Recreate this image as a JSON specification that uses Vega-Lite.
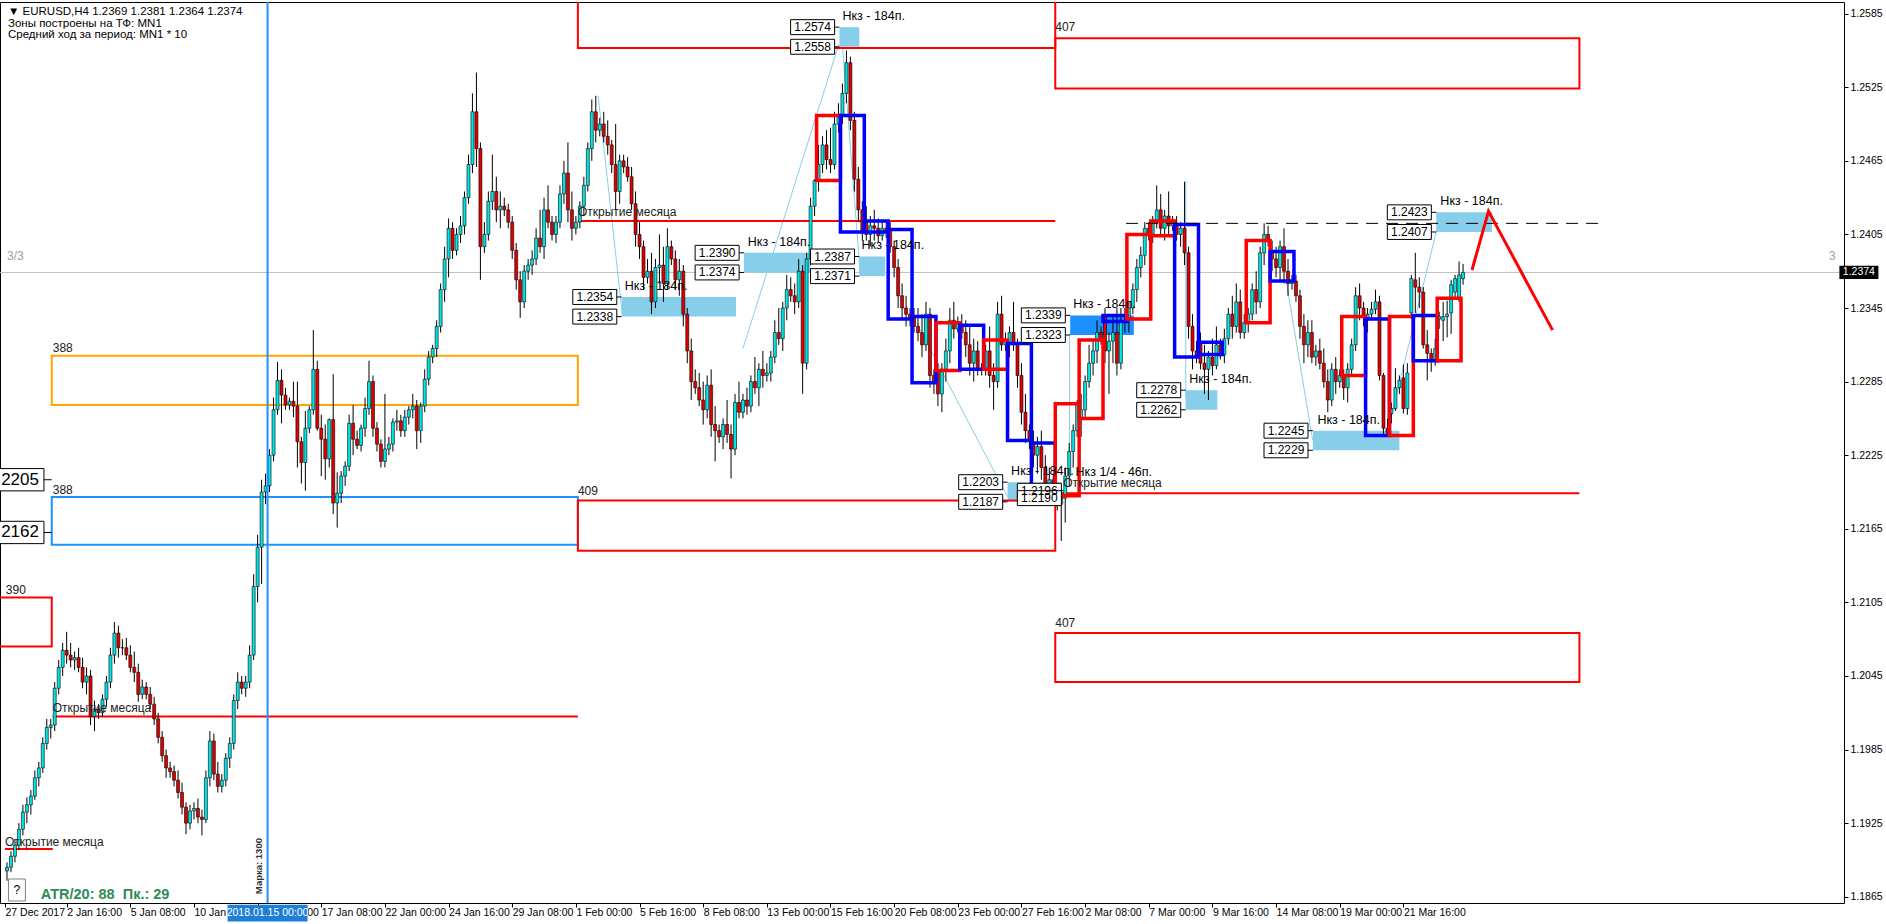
{
"$schema":"https://vega.github.io/schema/vega-lite/v6.json",
"width":1844,"height":901,
"autosize":{"type":"none"},
"padding":{"left":0,"top":2,"right":42,"bottom":21},
"background":"white",
"config":{
 "view":{"stroke":"black","strokeWidth":1},
 "font":"Liberation Sans",
 "axisX":{"title":null,"grid":false,"domain":false,"ticks":true,"tickSize":4,"tickColor":"black","labelAlign":"left","labelBaseline":"top","labelPadding":0,"labelDx":3,"labelFontSize":10.5,"labelColor":"black","labelFlush":false,"labelOverlap":false,"labelBound":false},
 "axisY":{"title":null,"grid":false,"domain":false,"ticks":true,"tickSize":4,"tickColor":"black","labelAlign":"left","labelBaseline":"middle","labelPadding":2,"labelFontSize":10.5,"labelColor":"black","labelFlush":false,"labelOverlap":false,"labelBound":false}
},
"datasets":{
 "weeks":[{"u":11.25},{"u":34.5},{"u":64.5},{"u":94.5},{"u":124.5},{"u":154.5},{"u":184.5},{"u":214.5},{"u":244.5},{"u":274.5},{"u":304.5},{"u":334.5},{"u":364.5},{"u":400.25}],
 "nkz":[
  {"u1":153.5,"u2":182.25,"pt":1.2354,"pb":1.2338,"kind":"h4"},
  {"u1":184.25,"u2":201,"pt":1.2390,"pb":1.2374,"kind":"h4"},
  {"u1":213.25,"u2":219.75,"pt":1.2387,"pb":1.2371,"kind":"h4"},
  {"u1":208.25,"u2":213.25,"pt":1.2574,"pb":1.2558,"kind":"h4"},
  {"u1":266.25,"u2":282.25,"pt":1.2339,"pb":1.2323,"kind":"active"},
  {"u1":250.5,"u2":264,"pt":1.2203,"pb":1.2187,"kind":"h4"},
  {"u1":295.25,"u2":303.25,"pt":1.2278,"pb":1.2262,"kind":"h4"},
  {"u1":327.25,"u2":349,"pt":1.2245,"pb":1.2229,"kind":"h4"},
  {"u1":358.25,"u2":372.25,"pt":1.2423,"pb":1.2407,"kind":"h4"}
 ],
 "zz":[
  {"s":1,"u":147.6,"p":1.2518},{"s":1,"u":153.7,"p":1.2339},
  {"s":2,"u":184.0,"p":1.2312},{"s":2,"u":208.1,"p":1.2560},
  {"s":3,"u":209.0,"p":1.2560},{"s":3,"u":213.5,"p":1.2372},
  {"s":4,"u":227.6,"p":1.2333},{"s":4,"u":250.5,"p":1.2191},
  {"s":5,"u":266.1,"p":1.2204},{"s":5,"u":266.1,"p":1.2324},
  {"s":6,"u":295.3,"p":1.2449},{"s":6,"u":295.3,"p":1.2272},
  {"s":7,"u":320.5,"p":1.2368},{"s":7,"u":327.2,"p":1.2237},
  {"s":8,"u":346.7,"p":1.2253},{"s":8,"u":358.4,"p":1.2409}
 ],
 "mnzones":[
  {"u1":10.25,"u2":142.5,"pt":1.2306,"pb":1.2266,"kind":"sell388"},
  {"u1":10.25,"u2":142.5,"pt":1.2191,"pb":1.2152,"kind":"buy388"},
  {"u1":-5,"u2":10.25,"pt":1.2109,"pb":1.2069,"kind":"z"},
  {"u1":142.5,"u2":262.5,"pt":1.2188,"pb":1.2147,"kind":"z"},
  {"u1":142.5,"u2":262.5,"pt":1.2650,"pb":1.2557,"kind":"z"},
  {"u1":262.5,"u2":394.25,"pt":1.2565,"pb":1.2524,"kind":"z"},
  {"u1":262.5,"u2":394.25,"pt":1.2080,"pb":1.2040,"kind":"z"}
 ],
 "mopen":[
  {"u1":-1.5,"u2":10.5,"p":1.1904},
  {"u1":10.5,"u2":142.5,"p":1.2012},
  {"u1":142.5,"u2":262.5,"p":1.2416},
  {"u1":262.5,"u2":394.25,"p":1.2194}
 ],
 "days":[
  {"u1":202.5,"u2":208.5,"dopen":1.2449,"dclose":1.2502},
  {"u1":208.5,"u2":214.5,"dopen":1.2502,"dclose":1.2407},
  {"u1":214.5,"u2":220.5,"dopen":1.2416,"dclose":1.2407},
  {"u1":220.5,"u2":226.5,"dopen":1.2409,"dclose":1.2336},
  {"u1":226.5,"u2":232.5,"dopen":1.2338,"dclose":1.2284},
  {"u1":232.5,"u2":238.5,"dopen":1.2294,"dclose":1.2333},
  {"u1":238.5,"u2":244.5,"dopen":1.2331,"dclose":1.2295},
  {"u1":244.5,"u2":250.5,"dopen":1.2295,"dclose":1.2319},
  {"u1":250.5,"u2":256.5,"dopen":1.2316,"dclose":1.2237},
  {"u1":256.5,"u2":262.5,"dopen":1.2235,"dclose":1.2200},
  {"u1":262.5,"u2":268.5,"dopen":1.2192,"dclose":1.2267},
  {"u1":268.5,"u2":274.5,"dopen":1.2255,"dclose":1.2319},
  {"u1":274.5,"u2":280.5,"dopen":1.2339,"dclose":1.2334},
  {"u1":280.5,"u2":286.5,"dopen":1.2336,"dclose":1.2405},
  {"u1":286.5,"u2":292.5,"dopen":1.2404,"dclose":1.2416},
  {"u1":292.5,"u2":298.5,"dopen":1.2413,"dclose":1.2305},
  {"u1":298.5,"u2":304.5,"dopen":1.2317,"dclose":1.2307},
  {"u1":310.5,"u2":316.5,"dopen":1.2333,"dclose":1.2400},
  {"u1":316.5,"u2":322.5,"dopen":1.2391,"dclose":1.2367},
  {"u1":334.5,"u2":340.5,"dopen":1.2290,"dclose":1.2338},
  {"u1":340.5,"u2":346.5,"dopen":1.2336,"dclose":1.2241},
  {"u1":346.5,"u2":352.5,"dopen":1.2241,"dclose":1.2338},
  {"u1":352.5,"u2":358.5,"dopen":1.2339,"dclose":1.2302},
  {"u1":358.5,"u2":364.5,"dopen":1.2302,"dclose":1.2353}
 ],
 "forecast":[{"k":1,"u":367.25,"p":1.2376},{"k":2,"u":371.4,"p":1.2424},{"k":3,"u":387.5,"p":1.2327}],
 "plabels":[
  {"t":"1.2354","u":146.75,"uz":153.5,"p":1.2354},{"t":"1.2338","u":146.75,"uz":153.5,"p":1.2338},
  {"t":"1.2390","u":177.5,"uz":184.25,"p":1.2390},{"t":"1.2374","u":177.5,"uz":184.25,"p":1.2374},
  {"t":"1.2387","u":206.5,"uz":213.25,"p":1.2387},{"t":"1.2371","u":206.5,"uz":213.25,"p":1.2371},
  {"t":"1.2574","u":201.5,"uz":208.25,"p":1.2574},{"t":"1.2558","u":201.5,"uz":208.25,"p":1.2558},
  {"t":"1.2339","u":259.5,"uz":266.25,"p":1.2339},{"t":"1.2323","u":259.5,"uz":266.25,"p":1.2323},
  {"t":"1.2203","u":243.75,"uz":250.5,"p":1.2203},{"t":"1.2187","u":243.75,"uz":250.5,"p":1.2187},
  {"t":"1.2196","u":258.5,"uz":264.5,"p":1.2196},{"t":"1.2190","u":258.5,"uz":264.5,"p":1.2190},
  {"t":"1.2278","u":288.5,"uz":295.25,"p":1.2278},{"t":"1.2262","u":288.5,"uz":295.25,"p":1.2262},
  {"t":"1.2245","u":320.5,"uz":327.25,"p":1.2245},{"t":"1.2229","u":320.5,"uz":327.25,"p":1.2229},
  {"t":"1.2423","u":351.5,"uz":358.25,"p":1.2423},{"t":"1.2407","u":351.5,"uz":358.25,"p":1.2407}
 ],
 "biglabels":[{"t":"1.2205","u":0.5,"uz":10.25,"p":1.2205},{"t":"1.2162","u":0.5,"uz":10.25,"p":1.2162}],
 "texts":[
  {"g":"hdr","u":-0.75,"p":1.25864,"t":"▼ EURUSD,H4  1.2369 1.2381 1.2364 1.2374"},
  {"g":"hdr","u":-0.75,"p":1.25764,"t":"Зоны построены на ТФ: MN1"},
  {"g":"hdr","u":-0.75,"p":1.25672,"t":"Средний ход за период: MN1 * 10"},
  {"g":"znum","u":10.5,"p":1.23125,"t":"388"},
  {"g":"znum","u":10.5,"p":1.21968,"t":"388"},
  {"g":"znum","u":-1.3,"p":1.21154,"t":"390"},
  {"g":"znum","u":142.5,"p":1.21959,"t":"409"},
  {"g":"znum","u":262.5,"p":1.2088,"t":"407"},
  {"g":"znum","u":262.5,"p":1.25743,"t":"407"},
  {"g":"mopen","u":-1.5,"p":1.1910,"t":"Открытие месяца"},
  {"g":"mopen","u":10.5,"p":1.2019,"t":"Открытие месяца"},
  {"g":"mopen","u":142.5,"p":1.2423,"t":"Открытие месяца"},
  {"g":"mopen","u":264.5,"p":1.2202,"t":"Открытие месяца"},
  {"g":"nkz","u":154.3,"p":1.2363,"t":"Нкз - 184п."},
  {"g":"nkz","u":185.2,"p":1.2399,"t":"Нкз - 184п."},
  {"g":"nkz","u":213.8,"p":1.2396,"t":"Нкз - 184п."},
  {"g":"nkz","u":209.0,"p":1.2583,"t":"Нкз - 184п."},
  {"g":"nkz","u":267.0,"p":1.2348,"t":"Нкз - 184п."},
  {"g":"nkz","u":251.4,"p":1.2212,"t":"Нкз - 184п."},
  {"g":"nkz","u":296.2,"p":1.2287,"t":"Нкз - 184п."},
  {"g":"nkz","u":328.4,"p":1.2254,"t":"Нкз - 184п."},
  {"g":"nkz","u":359.3,"p":1.2432,"t":"Нкз - 184п."},
  {"g":"nkz","u":267.6,"p":1.2211,"t":"Нкз 1/4 - 46п."},
  {"g":"gray","u":-1,"p":1.23874,"t":"3/3"},
  {"g":"gray","u":457,"p":1.23874,"t":"3"}
 ],
 "candles":[
{"b":-1,"o":1.1886,"h":1.1893,"l":1.1878,"c":1.1889},
{"b":0,"o":1.1889,"h":1.1902,"l":1.1885,"c":1.1898},
{"b":1,"o":1.1898,"h":1.1912,"l":1.1893,"c":1.1907},
{"b":2,"o":1.1907,"h":1.1925,"l":1.1903,"c":1.1920},
{"b":3,"o":1.1920,"h":1.1940,"l":1.1915,"c":1.1934},
{"b":4,"o":1.1934,"h":1.1946,"l":1.1925,"c":1.1940},
{"b":5,"o":1.1940,"h":1.1952,"l":1.1932,"c":1.1947},
{"b":6,"o":1.1947,"h":1.1968,"l":1.1944,"c":1.1962},
{"b":7,"o":1.1962,"h":1.1975,"l":1.1955,"c":1.1970},
{"b":8,"o":1.1970,"h":1.1995,"l":1.1966,"c":1.1990},
{"b":9,"o":1.1990,"h":1.2010,"l":1.1985,"c":1.2003},
{"b":10,"o":1.2003,"h":1.2010,"l":1.1994,"c":1.2005},
{"b":11,"o":1.2005,"h":1.2040,"l":1.2000,"c":1.2035},
{"b":12,"o":1.2035,"h":1.2058,"l":1.2030,"c":1.2052},
{"b":13,"o":1.2052,"h":1.2072,"l":1.2045,"c":1.2066},
{"b":14,"o":1.2066,"h":1.2081,"l":1.2055,"c":1.2062},
{"b":15,"o":1.2062,"h":1.2072,"l":1.2052,"c":1.2058},
{"b":16,"o":1.2058,"h":1.2065,"l":1.2050,"c":1.2060},
{"b":17,"o":1.2060,"h":1.2068,"l":1.2048,"c":1.2052},
{"b":18,"o":1.2052,"h":1.2060,"l":1.2035,"c":1.2040},
{"b":19,"o":1.2040,"h":1.2052,"l":1.2030,"c":1.2045},
{"b":20,"o":1.2045,"h":1.2050,"l":1.2005,"c":1.2012},
{"b":21,"o":1.2012,"h":1.2025,"l":1.2000,"c":1.2018},
{"b":22,"o":1.2018,"h":1.2022,"l":1.2010,"c":1.2015},
{"b":23,"o":1.2015,"h":1.2030,"l":1.2012,"c":1.2026},
{"b":24,"o":1.2026,"h":1.2045,"l":1.2020,"c":1.2040},
{"b":25,"o":1.2040,"h":1.2068,"l":1.2035,"c":1.2062},
{"b":26,"o":1.2062,"h":1.2089,"l":1.2055,"c":1.2080},
{"b":27,"o":1.2080,"h":1.2086,"l":1.2060,"c":1.2068},
{"b":28,"o":1.2068,"h":1.2075,"l":1.2062,"c":1.2068},
{"b":29,"o":1.2068,"h":1.2076,"l":1.2058,"c":1.2062},
{"b":30,"o":1.2062,"h":1.2070,"l":1.2048,"c":1.2052},
{"b":31,"o":1.2052,"h":1.2065,"l":1.2040,"c":1.2048},
{"b":32,"o":1.2048,"h":1.2055,"l":1.2024,"c":1.2030},
{"b":33,"o":1.2030,"h":1.2042,"l":1.2026,"c":1.2036},
{"b":34,"o":1.2036,"h":1.2040,"l":1.2026,"c":1.2030},
{"b":35,"o":1.2030,"h":1.2036,"l":1.2018,"c":1.2022},
{"b":36,"o":1.2022,"h":1.2028,"l":1.2005,"c":1.2010},
{"b":37,"o":1.2010,"h":1.2015,"l":1.1990,"c":1.1995},
{"b":38,"o":1.1995,"h":1.2000,"l":1.1975,"c":1.1980},
{"b":39,"o":1.1980,"h":1.1985,"l":1.1962,"c":1.1970},
{"b":40,"o":1.1970,"h":1.1975,"l":1.1962,"c":1.1967},
{"b":41,"o":1.1967,"h":1.1972,"l":1.1955,"c":1.1960},
{"b":42,"o":1.1960,"h":1.1968,"l":1.1945,"c":1.1950},
{"b":43,"o":1.1950,"h":1.1958,"l":1.1932,"c":1.1938},
{"b":44,"o":1.1938,"h":1.1942,"l":1.1916,"c":1.1925},
{"b":45,"o":1.1925,"h":1.1940,"l":1.1920,"c":1.1935},
{"b":46,"o":1.1935,"h":1.1942,"l":1.1928,"c":1.1937},
{"b":47,"o":1.1937,"h":1.1945,"l":1.1925,"c":1.1930},
{"b":48,"o":1.1930,"h":1.1936,"l":1.1915,"c":1.1928},
{"b":49,"o":1.1928,"h":1.1968,"l":1.1925,"c":1.1962},
{"b":50,"o":1.1962,"h":1.2000,"l":1.1955,"c":1.1992},
{"b":51,"o":1.1992,"h":1.1998,"l":1.1960,"c":1.1965},
{"b":52,"o":1.1965,"h":1.1975,"l":1.1950,"c":1.1955},
{"b":53,"o":1.1955,"h":1.1965,"l":1.1950,"c":1.1960},
{"b":54,"o":1.1960,"h":1.1982,"l":1.1955,"c":1.1978},
{"b":55,"o":1.1978,"h":1.1995,"l":1.1970,"c":1.1990},
{"b":56,"o":1.1990,"h":1.2030,"l":1.1985,"c":1.2025},
{"b":57,"o":1.2025,"h":1.2048,"l":1.2018,"c":1.2040},
{"b":58,"o":1.2040,"h":1.2045,"l":1.2030,"c":1.2035},
{"b":59,"o":1.2035,"h":1.2045,"l":1.2028,"c":1.2040},
{"b":60,"o":1.2040,"h":1.2070,"l":1.2035,"c":1.2062},
{"b":61,"o":1.2062,"h":1.2128,"l":1.2058,"c":1.2118},
{"b":62,"o":1.2118,"h":1.2160,"l":1.2105,"c":1.2150},
{"b":63,"o":1.2150,"h":1.2205,"l":1.2120,"c":1.2195},
{"b":64,"o":1.2195,"h":1.2210,"l":1.2185,"c":1.2200},
{"b":65,"o":1.2200,"h":1.2230,"l":1.2195,"c":1.2225},
{"b":66,"o":1.2225,"h":1.2272,"l":1.2220,"c":1.2262},
{"b":67,"o":1.2262,"h":1.2301,"l":1.2258,"c":1.2286},
{"b":68,"o":1.2286,"h":1.2295,"l":1.2251,"c":1.2274},
{"b":69,"o":1.2274,"h":1.2280,"l":1.2262,"c":1.2266},
{"b":70,"o":1.2266,"h":1.2272,"l":1.2262,"c":1.2269},
{"b":71,"o":1.2269,"h":1.2285,"l":1.2256,"c":1.2265},
{"b":72,"o":1.2265,"h":1.2285,"l":1.2215,"c":1.2236},
{"b":73,"o":1.2236,"h":1.2240,"l":1.2202,"c":1.2219},
{"b":74,"o":1.2219,"h":1.2261,"l":1.2196,"c":1.2247},
{"b":75,"o":1.2247,"h":1.2265,"l":1.2243,"c":1.2262},
{"b":76,"o":1.2262,"h":1.2327,"l":1.2258,"c":1.2295},
{"b":77,"o":1.2295,"h":1.2302,"l":1.2245,"c":1.2247},
{"b":78,"o":1.2247,"h":1.2258,"l":1.2208,"c":1.2238},
{"b":79,"o":1.2238,"h":1.2250,"l":1.2205,"c":1.2222},
{"b":80,"o":1.2222,"h":1.2255,"l":1.2215,"c":1.2254},
{"b":81,"o":1.2254,"h":1.2291,"l":1.2177,"c":1.2186},
{"b":82,"o":1.2186,"h":1.2211,"l":1.2166,"c":1.2194},
{"b":83,"o":1.2194,"h":1.2212,"l":1.2186,"c":1.2208},
{"b":84,"o":1.2208,"h":1.2220,"l":1.2200,"c":1.2216},
{"b":85,"o":1.2216,"h":1.2258,"l":1.2212,"c":1.2251},
{"b":86,"o":1.2251,"h":1.2266,"l":1.2225,"c":1.2238},
{"b":87,"o":1.2238,"h":1.2245,"l":1.2230,"c":1.2233},
{"b":88,"o":1.2233,"h":1.2250,"l":1.2228,"c":1.2247},
{"b":89,"o":1.2247,"h":1.2272,"l":1.2240,"c":1.2263},
{"b":90,"o":1.2263,"h":1.2302,"l":1.2258,"c":1.2285},
{"b":91,"o":1.2285,"h":1.2290,"l":1.2240,"c":1.2247},
{"b":92,"o":1.2247,"h":1.2252,"l":1.2228,"c":1.2234},
{"b":93,"o":1.2234,"h":1.2238,"l":1.2215,"c":1.2220},
{"b":94,"o":1.2220,"h":1.2275,"l":1.2215,"c":1.2230},
{"b":95,"o":1.2230,"h":1.2240,"l":1.2225,"c":1.2234},
{"b":96,"o":1.2234,"h":1.2255,"l":1.2228,"c":1.2252},
{"b":97,"o":1.2252,"h":1.2262,"l":1.2245,"c":1.2253},
{"b":98,"o":1.2253,"h":1.2258,"l":1.2240,"c":1.2245},
{"b":99,"o":1.2245,"h":1.2262,"l":1.2240,"c":1.2256},
{"b":100,"o":1.2256,"h":1.2265,"l":1.2250,"c":1.2262},
{"b":101,"o":1.2262,"h":1.2275,"l":1.2255,"c":1.2265},
{"b":102,"o":1.2265,"h":1.2270,"l":1.2230,"c":1.2245},
{"b":103,"o":1.2245,"h":1.2268,"l":1.2235,"c":1.2265},
{"b":104,"o":1.2265,"h":1.2295,"l":1.2260,"c":1.2287},
{"b":105,"o":1.2287,"h":1.2310,"l":1.2282,"c":1.2305},
{"b":106,"o":1.2305,"h":1.2315,"l":1.2300,"c":1.2312},
{"b":107,"o":1.2312,"h":1.2335,"l":1.2305,"c":1.2330},
{"b":108,"o":1.2330,"h":1.2365,"l":1.2325,"c":1.2360},
{"b":109,"o":1.2360,"h":1.2395,"l":1.2350,"c":1.2385},
{"b":110,"o":1.2385,"h":1.2418,"l":1.2370,"c":1.2410},
{"b":111,"o":1.2410,"h":1.2415,"l":1.2385,"c":1.2392},
{"b":112,"o":1.2392,"h":1.2410,"l":1.2388,"c":1.2405},
{"b":113,"o":1.2405,"h":1.2420,"l":1.2398,"c":1.2412},
{"b":114,"o":1.2412,"h":1.2440,"l":1.2405,"c":1.2435},
{"b":115,"o":1.2435,"h":1.2470,"l":1.2430,"c":1.2462},
{"b":116,"o":1.2462,"h":1.2520,"l":1.2455,"c":1.2505},
{"b":117,"o":1.2505,"h":1.2537,"l":1.2460,"c":1.2475},
{"b":118,"o":1.2475,"h":1.2480,"l":1.2368,"c":1.2395},
{"b":119,"o":1.2395,"h":1.2415,"l":1.2390,"c":1.2405},
{"b":120,"o":1.2405,"h":1.2440,"l":1.2400,"c":1.2432},
{"b":121,"o":1.2432,"h":1.2470,"l":1.2425,"c":1.2440},
{"b":122,"o":1.2440,"h":1.2452,"l":1.2415,"c":1.2425},
{"b":123,"o":1.2425,"h":1.2440,"l":1.2410,"c":1.2428},
{"b":124,"o":1.2428,"h":1.2435,"l":1.2420,"c":1.2425},
{"b":125,"o":1.2425,"h":1.2430,"l":1.2410,"c":1.2415},
{"b":126,"o":1.2415,"h":1.2420,"l":1.2385,"c":1.2392},
{"b":127,"o":1.2392,"h":1.2398,"l":1.2360,"c":1.2368},
{"b":128,"o":1.2368,"h":1.2375,"l":1.2337,"c":1.2350},
{"b":129,"o":1.2350,"h":1.2380,"l":1.2345,"c":1.2375},
{"b":130,"o":1.2375,"h":1.2385,"l":1.2368,"c":1.2380},
{"b":131,"o":1.2380,"h":1.2392,"l":1.2372,"c":1.2385},
{"b":132,"o":1.2385,"h":1.2410,"l":1.2380,"c":1.2402},
{"b":133,"o":1.2402,"h":1.2425,"l":1.2390,"c":1.2395},
{"b":134,"o":1.2395,"h":1.2435,"l":1.2385,"c":1.2425},
{"b":135,"o":1.2425,"h":1.2445,"l":1.2410,"c":1.2415},
{"b":136,"o":1.2415,"h":1.2420,"l":1.2400,"c":1.2405},
{"b":137,"o":1.2405,"h":1.2420,"l":1.2398,"c":1.2415},
{"b":138,"o":1.2415,"h":1.2445,"l":1.2410,"c":1.2438},
{"b":139,"o":1.2438,"h":1.2465,"l":1.2430,"c":1.2455},
{"b":140,"o":1.2455,"h":1.2480,"l":1.2415,"c":1.2425},
{"b":141,"o":1.2425,"h":1.2440,"l":1.2400,"c":1.2410},
{"b":142,"o":1.2410,"h":1.2420,"l":1.2405,"c":1.2415},
{"b":143,"o":1.2415,"h":1.2432,"l":1.2410,"c":1.2428},
{"b":144,"o":1.2428,"h":1.2452,"l":1.2420,"c":1.2445},
{"b":145,"o":1.2445,"h":1.2480,"l":1.2440,"c":1.2475},
{"b":146,"o":1.2475,"h":1.2515,"l":1.2465,"c":1.2505},
{"b":147,"o":1.2505,"h":1.2518,"l":1.2480,"c":1.2490},
{"b":148,"o":1.2490,"h":1.2500,"l":1.2485,"c":1.2495},
{"b":149,"o":1.2495,"h":1.2505,"l":1.2480,"c":1.2485},
{"b":150,"o":1.2485,"h":1.2498,"l":1.2470,"c":1.2478},
{"b":151,"o":1.2478,"h":1.2482,"l":1.2455,"c":1.2462},
{"b":152,"o":1.2462,"h":1.2495,"l":1.2425,"c":1.2440},
{"b":153,"o":1.2440,"h":1.2470,"l":1.2430,"c":1.2465},
{"b":154,"o":1.2465,"h":1.2470,"l":1.2455,"c":1.2460},
{"b":155,"o":1.2460,"h":1.2468,"l":1.2448,"c":1.2452},
{"b":156,"o":1.2452,"h":1.2460,"l":1.2425,"c":1.2430},
{"b":157,"o":1.2430,"h":1.2440,"l":1.2395,"c":1.2405},
{"b":158,"o":1.2405,"h":1.2415,"l":1.2385,"c":1.2395},
{"b":159,"o":1.2395,"h":1.2400,"l":1.2360,"c":1.2370},
{"b":160,"o":1.2370,"h":1.2385,"l":1.2365,"c":1.2375},
{"b":161,"o":1.2375,"h":1.2390,"l":1.2340,"c":1.2350},
{"b":162,"o":1.2350,"h":1.2385,"l":1.2345,"c":1.2378},
{"b":163,"o":1.2378,"h":1.2405,"l":1.2365,"c":1.2380},
{"b":164,"o":1.2380,"h":1.2395,"l":1.2350,"c":1.2365},
{"b":165,"o":1.2365,"h":1.2410,"l":1.2360,"c":1.2395},
{"b":166,"o":1.2395,"h":1.2400,"l":1.2380,"c":1.2385},
{"b":167,"o":1.2385,"h":1.2392,"l":1.2360,"c":1.2368},
{"b":168,"o":1.2368,"h":1.2385,"l":1.2355,"c":1.2375},
{"b":169,"o":1.2375,"h":1.2380,"l":1.2330,"c":1.2340},
{"b":170,"o":1.2340,"h":1.2345,"l":1.2300,"c":1.2310},
{"b":171,"o":1.2310,"h":1.2320,"l":1.2270,"c":1.2285},
{"b":172,"o":1.2285,"h":1.2295,"l":1.2275,"c":1.2280},
{"b":173,"o":1.2280,"h":1.2292,"l":1.2265,"c":1.2270},
{"b":174,"o":1.2270,"h":1.2285,"l":1.2250,"c":1.2262},
{"b":175,"o":1.2262,"h":1.2290,"l":1.2255,"c":1.2282},
{"b":176,"o":1.2282,"h":1.2295,"l":1.2240,"c":1.2250},
{"b":177,"o":1.2250,"h":1.2265,"l":1.2220,"c":1.2245},
{"b":178,"o":1.2245,"h":1.2250,"l":1.2235,"c":1.2240},
{"b":179,"o":1.2240,"h":1.2255,"l":1.2230,"c":1.2250},
{"b":180,"o":1.2250,"h":1.2270,"l":1.2235,"c":1.2242},
{"b":181,"o":1.2242,"h":1.2250,"l":1.2206,"c":1.2230},
{"b":182,"o":1.2230,"h":1.2275,"l":1.2225,"c":1.2268},
{"b":183,"o":1.2268,"h":1.2285,"l":1.2255,"c":1.2260},
{"b":184,"o":1.2260,"h":1.2275,"l":1.2255,"c":1.2270},
{"b":185,"o":1.2270,"h":1.2280,"l":1.2258,"c":1.2265},
{"b":186,"o":1.2265,"h":1.2290,"l":1.2260,"c":1.2285},
{"b":187,"o":1.2285,"h":1.2305,"l":1.2275,"c":1.2280},
{"b":188,"o":1.2280,"h":1.2300,"l":1.2265,"c":1.2295},
{"b":189,"o":1.2295,"h":1.2310,"l":1.2280,"c":1.2290},
{"b":190,"o":1.2290,"h":1.2300,"l":1.2285,"c":1.2292},
{"b":191,"o":1.2292,"h":1.2310,"l":1.2285,"c":1.2305},
{"b":192,"o":1.2305,"h":1.2335,"l":1.2300,"c":1.2325},
{"b":193,"o":1.2325,"h":1.2345,"l":1.2315,"c":1.2320},
{"b":194,"o":1.2320,"h":1.2350,"l":1.2310,"c":1.2345},
{"b":195,"o":1.2345,"h":1.2372,"l":1.2335,"c":1.2360},
{"b":196,"o":1.2360,"h":1.2370,"l":1.2350,"c":1.2355},
{"b":197,"o":1.2355,"h":1.2365,"l":1.2340,"c":1.2350},
{"b":198,"o":1.2350,"h":1.2385,"l":1.2345,"c":1.2375},
{"b":199,"o":1.2375,"h":1.2380,"l":1.2275,"c":1.2300},
{"b":200,"o":1.2300,"h":1.2390,"l":1.2295,"c":1.2385},
{"b":201,"o":1.2385,"h":1.2435,"l":1.2380,"c":1.2428},
{"b":202,"o":1.2428,"h":1.2450,"l":1.2420,"c":1.2449},
{"b":203,"o":1.2449,"h":1.2478,"l":1.2440,"c":1.2462},
{"b":204,"o":1.2462,"h":1.2485,"l":1.2455,"c":1.2478},
{"b":205,"o":1.2478,"h":1.2490,"l":1.2458,"c":1.2466},
{"b":206,"o":1.2466,"h":1.2492,"l":1.2455,"c":1.2462},
{"b":207,"o":1.2462,"h":1.2505,"l":1.2458,"c":1.2495},
{"b":208,"o":1.2495,"h":1.2512,"l":1.2488,"c":1.2502},
{"b":209,"o":1.2502,"h":1.2528,"l":1.2495,"c":1.2520},
{"b":210,"o":1.2520,"h":1.2555,"l":1.2512,"c":1.2545},
{"b":211,"o":1.2545,"h":1.2550,"l":1.2490,"c":1.2498},
{"b":212,"o":1.2498,"h":1.2505,"l":1.2440,"c":1.2450},
{"b":213,"o":1.2450,"h":1.2460,"l":1.2415,"c":1.2425},
{"b":214,"o":1.2425,"h":1.2432,"l":1.2400,"c":1.2407},
{"b":215,"o":1.2416,"h":1.2428,"l":1.2400,"c":1.2405},
{"b":216,"o":1.2405,"h":1.2420,"l":1.2395,"c":1.2412},
{"b":217,"o":1.2412,"h":1.2425,"l":1.2400,"c":1.2410},
{"b":218,"o":1.2410,"h":1.2418,"l":1.2398,"c":1.2404},
{"b":219,"o":1.2404,"h":1.2415,"l":1.2400,"c":1.2410},
{"b":220,"o":1.2410,"h":1.2415,"l":1.2402,"c":1.2407},
{"b":221,"o":1.2409,"h":1.2415,"l":1.2390,"c":1.2395},
{"b":222,"o":1.2395,"h":1.2400,"l":1.2370,"c":1.2378},
{"b":223,"o":1.2378,"h":1.2385,"l":1.2345,"c":1.2355},
{"b":224,"o":1.2355,"h":1.2365,"l":1.2335,"c":1.2345},
{"b":225,"o":1.2345,"h":1.2355,"l":1.2330,"c":1.2340},
{"b":226,"o":1.2340,"h":1.2345,"l":1.2330,"c":1.2336},
{"b":227,"o":1.2338,"h":1.2345,"l":1.2325,"c":1.2330},
{"b":228,"o":1.2330,"h":1.2345,"l":1.2318,"c":1.2325},
{"b":229,"o":1.2325,"h":1.2340,"l":1.2305,"c":1.2315},
{"b":230,"o":1.2315,"h":1.2350,"l":1.2310,"c":1.2340},
{"b":231,"o":1.2340,"h":1.2345,"l":1.2280,"c":1.2290},
{"b":232,"o":1.2290,"h":1.2295,"l":1.2275,"c":1.2284},
{"b":233,"o":1.2294,"h":1.2300,"l":1.2265,"c":1.2275},
{"b":234,"o":1.2275,"h":1.2300,"l":1.2260,"c":1.2295},
{"b":235,"o":1.2295,"h":1.2320,"l":1.2285,"c":1.2310},
{"b":236,"o":1.2310,"h":1.2345,"l":1.2300,"c":1.2335},
{"b":237,"o":1.2335,"h":1.2350,"l":1.2320,"c":1.2328},
{"b":238,"o":1.2328,"h":1.2338,"l":1.2325,"c":1.2333},
{"b":239,"o":1.2331,"h":1.2340,"l":1.2320,"c":1.2325},
{"b":240,"o":1.2325,"h":1.2335,"l":1.2305,"c":1.2315},
{"b":241,"o":1.2315,"h":1.2330,"l":1.2290,"c":1.2300},
{"b":242,"o":1.2300,"h":1.2320,"l":1.2285,"c":1.2310},
{"b":243,"o":1.2310,"h":1.2318,"l":1.2290,"c":1.2295},
{"b":244,"o":1.2295,"h":1.2300,"l":1.2290,"c":1.2295},
{"b":245,"o":1.2295,"h":1.2315,"l":1.2290,"c":1.2310},
{"b":246,"o":1.2310,"h":1.2330,"l":1.2280,"c":1.2290},
{"b":247,"o":1.2290,"h":1.2300,"l":1.2262,"c":1.2285},
{"b":248,"o":1.2285,"h":1.2350,"l":1.2280,"c":1.2340},
{"b":249,"o":1.2340,"h":1.2355,"l":1.2310,"c":1.2315},
{"b":250,"o":1.2315,"h":1.2325,"l":1.2310,"c":1.2319},
{"b":251,"o":1.2316,"h":1.2330,"l":1.2305,"c":1.2325},
{"b":252,"o":1.2325,"h":1.2350,"l":1.2310,"c":1.2315},
{"b":253,"o":1.2315,"h":1.2320,"l":1.2280,"c":1.2290},
{"b":254,"o":1.2290,"h":1.2300,"l":1.2250,"c":1.2260},
{"b":255,"o":1.2260,"h":1.2275,"l":1.2235,"c":1.2245},
{"b":256,"o":1.2245,"h":1.2250,"l":1.2230,"c":1.2237},
{"b":257,"o":1.2235,"h":1.2245,"l":1.2215,"c":1.2225},
{"b":258,"o":1.2225,"h":1.2240,"l":1.2210,"c":1.2232},
{"b":259,"o":1.2232,"h":1.2245,"l":1.2205,"c":1.2215},
{"b":260,"o":1.2215,"h":1.2225,"l":1.2190,"c":1.2198},
{"b":261,"o":1.2198,"h":1.2215,"l":1.2188,"c":1.2205},
{"b":262,"o":1.2205,"h":1.2210,"l":1.2195,"c":1.2200},
{"b":263,"o":1.2192,"h":1.2200,"l":1.2180,"c":1.2185},
{"b":264,"o":1.2185,"h":1.2198,"l":1.2155,"c":1.2190},
{"b":265,"o":1.2190,"h":1.2215,"l":1.2170,"c":1.2208},
{"b":266,"o":1.2208,"h":1.2235,"l":1.2200,"c":1.2228},
{"b":267,"o":1.2228,"h":1.2250,"l":1.2215,"c":1.2245},
{"b":268,"o":1.2245,"h":1.2270,"l":1.2240,"c":1.2267},
{"b":269,"o":1.2255,"h":1.2275,"l":1.2240,"c":1.2262},
{"b":270,"o":1.2262,"h":1.2290,"l":1.2255,"c":1.2285},
{"b":271,"o":1.2285,"h":1.2315,"l":1.2280,"c":1.2300},
{"b":272,"o":1.2300,"h":1.2320,"l":1.2290,"c":1.2310},
{"b":273,"o":1.2310,"h":1.2335,"l":1.2300,"c":1.2325},
{"b":274,"o":1.2325,"h":1.2330,"l":1.2315,"c":1.2319},
{"b":275,"o":1.2339,"h":1.2345,"l":1.2300,"c":1.2310},
{"b":276,"o":1.2310,"h":1.2325,"l":1.2275,"c":1.2318},
{"b":277,"o":1.2318,"h":1.2340,"l":1.2300,"c":1.2325},
{"b":278,"o":1.2325,"h":1.2345,"l":1.2290,"c":1.2300},
{"b":279,"o":1.2300,"h":1.2345,"l":1.2295,"c":1.2335},
{"b":280,"o":1.2335,"h":1.2345,"l":1.2325,"c":1.2334},
{"b":281,"o":1.2336,"h":1.2350,"l":1.2325,"c":1.2345},
{"b":282,"o":1.2345,"h":1.2365,"l":1.2340,"c":1.2360},
{"b":283,"o":1.2360,"h":1.2385,"l":1.2350,"c":1.2378},
{"b":284,"o":1.2378,"h":1.2395,"l":1.2370,"c":1.2388},
{"b":285,"o":1.2388,"h":1.2415,"l":1.2380,"c":1.2410},
{"b":286,"o":1.2410,"h":1.2415,"l":1.2400,"c":1.2405},
{"b":287,"o":1.2404,"h":1.2420,"l":1.2398,"c":1.2415},
{"b":288,"o":1.2415,"h":1.2445,"l":1.2410,"c":1.2425},
{"b":289,"o":1.2425,"h":1.2438,"l":1.2405,"c":1.2410},
{"b":290,"o":1.2410,"h":1.2425,"l":1.2400,"c":1.2420},
{"b":291,"o":1.2420,"h":1.2440,"l":1.2405,"c":1.2412},
{"b":292,"o":1.2412,"h":1.2420,"l":1.2408,"c":1.2416},
{"b":293,"o":1.2413,"h":1.2420,"l":1.2400,"c":1.2405},
{"b":294,"o":1.2405,"h":1.2415,"l":1.2395,"c":1.2410},
{"b":295,"o":1.2410,"h":1.2448,"l":1.2380,"c":1.2390},
{"b":296,"o":1.2390,"h":1.2395,"l":1.2320,"c":1.2330},
{"b":297,"o":1.2330,"h":1.2340,"l":1.2295,"c":1.2310},
{"b":298,"o":1.2310,"h":1.2318,"l":1.2300,"c":1.2305},
{"b":299,"o":1.2317,"h":1.2325,"l":1.2295,"c":1.2300},
{"b":300,"o":1.2300,"h":1.2315,"l":1.2275,"c":1.2295},
{"b":301,"o":1.2295,"h":1.2310,"l":1.2270,"c":1.2305},
{"b":302,"o":1.2305,"h":1.2320,"l":1.2290,"c":1.2298},
{"b":303,"o":1.2298,"h":1.2330,"l":1.2295,"c":1.2315},
{"b":304,"o":1.2315,"h":1.2320,"l":1.2303,"c":1.2307},
{"b":305,"o":1.2307,"h":1.2328,"l":1.2300,"c":1.2320},
{"b":306,"o":1.2320,"h":1.2345,"l":1.2315,"c":1.2340},
{"b":307,"o":1.2340,"h":1.2355,"l":1.2320,"c":1.2330},
{"b":308,"o":1.2330,"h":1.2365,"l":1.2325,"c":1.2350},
{"b":309,"o":1.2350,"h":1.2360,"l":1.2320,"c":1.2325},
{"b":310,"o":1.2325,"h":1.2340,"l":1.2320,"c":1.2333},
{"b":311,"o":1.2333,"h":1.2345,"l":1.2325,"c":1.2340},
{"b":312,"o":1.2340,"h":1.2365,"l":1.2335,"c":1.2360},
{"b":313,"o":1.2360,"h":1.2375,"l":1.2340,"c":1.2350},
{"b":314,"o":1.2350,"h":1.2395,"l":1.2345,"c":1.2390},
{"b":315,"o":1.2390,"h":1.2414,"l":1.2380,"c":1.2405},
{"b":316,"o":1.2405,"h":1.2412,"l":1.2395,"c":1.2400},
{"b":317,"o":1.2391,"h":1.2400,"l":1.2375,"c":1.2385},
{"b":318,"o":1.2385,"h":1.2395,"l":1.2370,"c":1.2378},
{"b":319,"o":1.2378,"h":1.2400,"l":1.2368,"c":1.2395},
{"b":320,"o":1.2395,"h":1.2410,"l":1.2365,"c":1.2375},
{"b":321,"o":1.2375,"h":1.2385,"l":1.2355,"c":1.2365},
{"b":322,"o":1.2365,"h":1.2372,"l":1.2360,"c":1.2367},
{"b":323,"o":1.2367,"h":1.2372,"l":1.2350,"c":1.2355},
{"b":324,"o":1.2355,"h":1.2360,"l":1.2320,"c":1.2330},
{"b":325,"o":1.2330,"h":1.2340,"l":1.2300,"c":1.2315},
{"b":326,"o":1.2315,"h":1.2335,"l":1.2305,"c":1.2325},
{"b":327,"o":1.2325,"h":1.2335,"l":1.2300,"c":1.2305},
{"b":328,"o":1.2305,"h":1.2315,"l":1.2298,"c":1.2310},
{"b":329,"o":1.2310,"h":1.2320,"l":1.2295,"c":1.2300},
{"b":330,"o":1.2300,"h":1.2312,"l":1.2280,"c":1.2285},
{"b":331,"o":1.2285,"h":1.2295,"l":1.2260,"c":1.2270},
{"b":332,"o":1.2270,"h":1.2300,"l":1.2265,"c":1.2295},
{"b":333,"o":1.2295,"h":1.2305,"l":1.2275,"c":1.2285},
{"b":334,"o":1.2285,"h":1.2295,"l":1.2280,"c":1.2290},
{"b":335,"o":1.2290,"h":1.2295,"l":1.2270,"c":1.2280},
{"b":336,"o":1.2280,"h":1.2300,"l":1.2268,"c":1.2295},
{"b":337,"o":1.2295,"h":1.2320,"l":1.2290,"c":1.2315},
{"b":338,"o":1.2315,"h":1.2362,"l":1.2310,"c":1.2355},
{"b":339,"o":1.2355,"h":1.2365,"l":1.2335,"c":1.2345},
{"b":340,"o":1.2345,"h":1.2350,"l":1.2330,"c":1.2338},
{"b":341,"o":1.2336,"h":1.2345,"l":1.2325,"c":1.2340},
{"b":342,"o":1.2340,"h":1.2350,"l":1.2335,"c":1.2344},
{"b":343,"o":1.2344,"h":1.2360,"l":1.2340,"c":1.2350},
{"b":344,"o":1.2350,"h":1.2355,"l":1.2286,"c":1.2290},
{"b":345,"o":1.2290,"h":1.2292,"l":1.2241,"c":1.2247},
{"b":346,"o":1.2247,"h":1.2255,"l":1.2240,"c":1.2243},
{"b":347,"o":1.2259,"h":1.2268,"l":1.2251,"c":1.2263},
{"b":348,"o":1.2263,"h":1.2296,"l":1.2261,"c":1.2280},
{"b":349,"o":1.2280,"h":1.2290,"l":1.2275,"c":1.2286},
{"b":350,"o":1.2288,"h":1.2299,"l":1.2259,"c":1.2263},
{"b":351,"o":1.2263,"h":1.2300,"l":1.2258,"c":1.2292},
{"b":352,"o":1.2341,"h":1.2372,"l":1.2336,"c":1.2369},
{"b":353,"o":1.2368,"h":1.2390,"l":1.2341,"c":1.2362},
{"b":354,"o":1.2362,"h":1.2370,"l":1.2345,"c":1.2358},
{"b":355,"o":1.2358,"h":1.2362,"l":1.2312,"c":1.2315},
{"b":356,"o":1.2315,"h":1.2327,"l":1.2286,"c":1.2308},
{"b":357,"o":1.2308,"h":1.2312,"l":1.2293,"c":1.2302},
{"b":358,"o":1.2302,"h":1.2320,"l":1.2298,"c":1.2312},
{"b":359,"o":1.2336,"h":1.2342,"l":1.2328,"c":1.2338},
{"b":360,"o":1.2335,"h":1.2350,"l":1.2318,"c":1.2338},
{"b":361,"o":1.2338,"h":1.2351,"l":1.2321,"c":1.2340},
{"b":362,"o":1.2341,"h":1.2368,"l":1.2324,"c":1.2364},
{"b":363,"o":1.2358,"h":1.2372,"l":1.2352,"c":1.2369},
{"b":364,"o":1.2352,"h":1.2383,"l":1.2350,"c":1.2372},
{"b":365,"o":1.2369,"h":1.2381,"l":1.2364,"c":1.2374}
 ]
},
"layer":[
 {"data":{"name":"weeks"},"mark":{"type":"rule","color":"black","strokeWidth":1,"strokeDash":[3,3]},
  "encoding":{
   "x":{"field":"u","type":"quantitative","title":null,"scale":{"domain":[-1.5,459.5],"nice":false,"zero":false},
     "axis":{"values":[-1.5,14,30,46,62,78,94,110,126,142,158,174,190,206,222,238,254,270,286,302,318,334,350],
       "labelExpr":"['27 Dec 2017','2 Jan 16:00','5 Jan 08:00','10 Jan 00:00','12 Jan 16:00','17 Jan 08:00','22 Jan 00:00','24 Jan 16:00','29 Jan 08:00','1 Feb 00:00','5 Feb 16:00','8 Feb 08:00','13 Feb 00:00','15 Feb 16:00','20 Feb 08:00','23 Feb 00:00','27 Feb 16:00','2 Mar 08:00','7 Mar 00:00','9 Mar 16:00','14 Mar 08:00','19 Mar 00:00','21 Mar 16:00'][round((datum.value+2)/16)]"}},
   "y":{"datum":1.2374,"type":"quantitative","title":null,"scale":{"domain":[1.18599,1.25945],"nice":false,"zero":false},
     "axis":{"orient":"right","values":[1.1865,1.1895,1.1925,1.1955,1.1985,1.2015,1.2045,1.2075,1.2105,1.2135,1.2165,1.2195,1.2225,1.2255,1.2285,1.2315,1.2345,1.2375,1.2405,1.2435,1.2465,1.2495,1.2525,1.2555,1.2585],"format":".4f"}},
   "y2":{"datum":1.2374}
  }},
 {"data":{"values":[{"p":1.2374}]},"mark":{"type":"rule","color":"#C0C0C0","strokeWidth":1},
  "encoding":{"y":{"field":"p","type":"quantitative","title":null}}},
 {"data":{"name":"nkz"},"mark":{"type":"rect","clip":true},
  "encoding":{"x":{"field":"u1","type":"quantitative","title":null},"x2":{"field":"u2"},
   "y":{"field":"pt","type":"quantitative","title":null},"y2":{"field":"pb"},
   "fill":{"field":"kind","type":"nominal","scale":{"domain":["h4","active"],"range":["#87CEEB","#1E90FF"]},"legend":null}}},
 {"data":{"name":"zz"},"mark":{"type":"line","color":"#87CEEB","strokeWidth":1,"clip":true},
  "encoding":{"x":{"field":"u","type":"quantitative","title":null},"y":{"field":"p","type":"quantitative","title":null},"detail":{"field":"s","type":"nominal"}}},
 {"data":{"name":"mnzones"},"mark":{"type":"rect","clip":true,"fillOpacity":0,"strokeWidth":2},
  "encoding":{"x":{"field":"u1","type":"quantitative","title":null},"x2":{"field":"u2"},
   "y":{"field":"pt","type":"quantitative","title":null},"y2":{"field":"pb"},
   "stroke":{"field":"kind","type":"nominal","scale":{"domain":["sell388","buy388","z"],"range":["#FFA500","#1E90FF","#FF0000"]},"legend":null}}},
 {"data":{"name":"mopen"},"mark":{"type":"rule","color":"#FF0000","strokeWidth":2,"clip":true},
  "encoding":{"x":{"field":"u1","type":"quantitative","title":null},"x2":{"field":"u2"},"y":{"field":"p","type":"quantitative","title":null}}},
 {"data":{"name":"candles"},"mark":{"type":"rule","color":"black","strokeWidth":1,"clip":true},
  "encoding":{"x":{"field":"b","type":"quantitative","title":null},"y":{"field":"l","type":"quantitative","title":null},"y2":{"field":"h"}}},
 {"data":{"name":"candles"},"mark":{"type":"bar","size":3,"stroke":"black","strokeWidth":0.6,"clip":true},
  "encoding":{"x":{"field":"b","type":"quantitative","title":null},"y":{"field":"o","type":"quantitative","title":null},"y2":{"field":"c"},
   "color":{"condition":{"test":"datum.c >= datum.o","value":"#00E5E5"},"value":"#E00000"}}},
 {"data":{"name":"days"},"mark":{"type":"rect","fillOpacity":0,"strokeWidth":3.5,"clip":true},
  "encoding":{"x":{"field":"u1","type":"quantitative","title":null},"x2":{"field":"u2"},
   "y":{"field":"dopen","type":"quantitative","title":null},"y2":{"field":"dclose"},
   "stroke":{"condition":{"test":"datum.dclose >= datum.dopen","value":"#FF0000"},"value":"#0000FF"}}},
 {"data":{"values":[{"u":64.5}]},"mark":{"type":"rule","color":"#1E90FF","strokeWidth":2},
  "encoding":{"x":{"field":"u","type":"quantitative","title":null}}},
 {"data":{"values":[{"u1":280.3,"u2":399,"p":1.2414}]},"mark":{"type":"rule","color":"black","strokeWidth":1,"strokeDash":[12,8]},
  "encoding":{"x":{"field":"u1","type":"quantitative","title":null},"x2":{"field":"u2"},"y":{"field":"p","type":"quantitative","title":null}}},
 {"data":{"name":"forecast"},"mark":{"type":"line","color":"#FF0000","strokeWidth":3},
  "encoding":{"x":{"field":"u","type":"quantitative","title":null},"y":{"field":"p","type":"quantitative","title":null},"order":{"field":"k"}}},
 {"data":{"name":"plabels"},"mark":{"type":"rule","color":"black","strokeWidth":1},
  "encoding":{"x":{"field":"u","type":"quantitative","title":null},"x2":{"field":"uz"},"y":{"field":"p","type":"quantitative","title":null}}},
 {"data":{"name":"plabels"},"mark":{"type":"point","shape":"M-1,-0.34L1,-0.34L1,0.34L-1,0.34Z","size":1936,"filled":true,"fill":"white","stroke":"black","strokeWidth":1,"opacity":1},
  "encoding":{"x":{"field":"u","type":"quantitative","title":null},"y":{"field":"p","type":"quantitative","title":null}}},
 {"data":{"name":"plabels"},"mark":{"type":"text","fontSize":12,"color":"black","align":"center","baseline":"middle"},
  "encoding":{"x":{"field":"u","type":"quantitative","title":null},"y":{"field":"p","type":"quantitative","title":null},"text":{"field":"t"}}},
 {"data":{"name":"biglabels"},"mark":{"type":"rule","color":"black","strokeWidth":1},
  "encoding":{"x":{"field":"u","type":"quantitative","title":null},"x2":{"field":"uz"},"y":{"field":"p","type":"quantitative","title":null}}},
 {"data":{"name":"biglabels"},"mark":{"type":"point","shape":"M-1,-0.36L1,-0.36L1,0.36L-1,0.36Z","size":3844,"filled":true,"fill":"white","stroke":"black","strokeWidth":1,"opacity":1},
  "encoding":{"x":{"field":"u","type":"quantitative","title":null},"y":{"field":"p","type":"quantitative","title":null}}},
 {"data":{"name":"biglabels"},"mark":{"type":"text","fontSize":17,"color":"black","align":"center","baseline":"middle"},
  "encoding":{"x":{"field":"u","type":"quantitative","title":null},"y":{"field":"p","type":"quantitative","title":null},"text":{"field":"t"}}},
 {"data":{"name":"texts"},"transform":[{"filter":"datum.g == 'hdr'"}],"mark":{"type":"text","fontSize":11.5,"color":"black","align":"left","baseline":"middle"},
  "encoding":{"x":{"field":"u","type":"quantitative","title":null},"y":{"field":"p","type":"quantitative","title":null},"text":{"field":"t"}}},
 {"data":{"name":"texts"},"transform":[{"filter":"datum.g == 'znum' || datum.g == 'mopen'"}],"mark":{"type":"text","fontSize":12,"color":"#222222","align":"left","baseline":"middle","clip":true},
  "encoding":{"x":{"field":"u","type":"quantitative","title":null},"y":{"field":"p","type":"quantitative","title":null},"text":{"field":"t"}}},
 {"data":{"name":"texts"},"transform":[{"filter":"datum.g == 'nkz'"}],"mark":{"type":"text","fontSize":12.5,"color":"black","align":"left","baseline":"middle"},
  "encoding":{"x":{"field":"u","type":"quantitative","title":null},"y":{"field":"p","type":"quantitative","title":null},"text":{"field":"t"}}},
 {"data":{"name":"texts"},"transform":[{"filter":"datum.g == 'gray'"}],"mark":{"type":"text","fontSize":12,"color":"#A0A0A0","align":"left","baseline":"middle"},
  "encoding":{"x":{"field":"u","type":"quantitative","title":null},"y":{"field":"p","type":"quantitative","title":null},"text":{"field":"t"}}},
 {"data":{"values":[{"u":7.5,"p":1.18664,"t":"ATR/20: 88 \u00a0Пк.: 29"}]},"mark":{"type":"text","fontSize":14.5,"fontWeight":"bold","color":"#2E8B57","align":"left","baseline":"middle"},
  "encoding":{"x":{"field":"u","type":"quantitative","title":null},"y":{"field":"p","type":"quantitative","title":null},"text":{"field":"t"}}},
 {"data":{"values":[{"u":1.5,"p":1.18705}]},"mark":{"type":"point","shape":"M-0.77,-1L0.77,-1L0.77,1L-0.77,1Z","size":484,"filled":true,"fill":"white","stroke":"#808080","strokeWidth":1,"opacity":1},
  "encoding":{"x":{"field":"u","type":"quantitative","title":null},"y":{"field":"p","type":"quantitative","title":null}}},
 {"data":{"values":[{"u":1.5,"p":1.18705,"t":"?"}]},"mark":{"type":"text","fontSize":12,"color":"black","align":"center","baseline":"middle"},
  "encoding":{"x":{"field":"u","type":"quantitative","title":null},"y":{"field":"p","type":"quantitative","title":null},"text":{"field":"t"}}},
 {"data":{"values":[{"u":62.25,"p":1.1890,"t":"Марка: 1300"}]},"mark":{"type":"text","fontSize":9.5,"fontWeight":"bold","color":"#333333","align":"center","baseline":"middle","angle":270,"clip":true},
  "encoding":{"x":{"field":"u","type":"quantitative","title":null},"y":{"field":"p","type":"quantitative","title":null},"text":{"field":"t"}}},
 {"data":{"values":[{"u":64.5,"p":1.18517}]},"mark":{"type":"point","shape":"M-1,-0.21L1,-0.21L1,0.21L-1,0.21Z","size":6400,"filled":true,"fill":"#1E7FD8","strokeWidth":0,"opacity":1},
  "encoding":{"x":{"field":"u","type":"quantitative","title":null},"y":{"field":"p","type":"quantitative","title":null}}},
 {"data":{"values":[{"u":64.5,"p":1.18517,"t":"2018.01.15 00:00"}]},"mark":{"type":"text","fontSize":10.5,"color":"white","align":"center","baseline":"middle"},
  "encoding":{"x":{"field":"u","type":"quantitative","title":null},"y":{"field":"p","type":"quantitative","title":null},"text":{"field":"t"}}},
 {"data":{"values":[{"u":464.5,"p":1.2374}]},"mark":{"type":"point","shape":"M-1,-0.34L1,-0.34L1,0.34L-1,0.34Z","size":1521,"filled":true,"fill":"black","strokeWidth":0,"opacity":1},
  "encoding":{"x":{"field":"u","type":"quantitative","title":null},"y":{"field":"p","type":"quantitative","title":null}}},
 {"data":{"values":[{"u":464.5,"p":1.2374,"t":"1.2374"}]},"mark":{"type":"text","fontSize":10.5,"color":"white","align":"center","baseline":"middle"},
  "encoding":{"x":{"field":"u","type":"quantitative","title":null},"y":{"field":"p","type":"quantitative","title":null},"text":{"field":"t"}}}
]
}
